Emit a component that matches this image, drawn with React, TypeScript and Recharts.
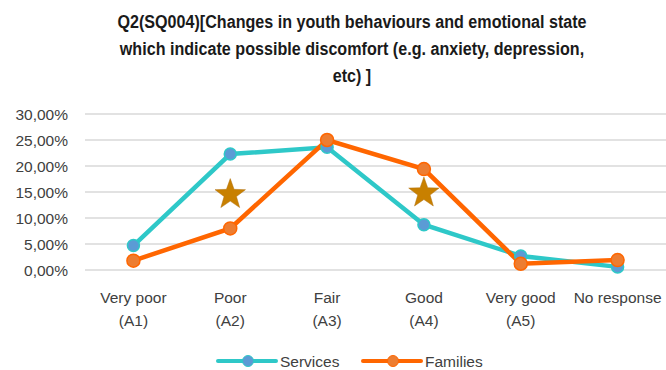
import { XAxis, YAxis, CartesianGrid, Line, Scatter, ComposedChart } from "recharts";

const categories = ["Very poor|(A1)", "Poor|(A2)", "Fair|(A3)", "Good|(A4)", "Very good|(A5)", "No response"];
const services = [4.7, 22.3, 23.6, 8.7, 2.7, 0.6];
const families = [1.8, 8.0, 25.0, 19.4, 1.2, 1.9];
// star markers placed between the two lines
const stars = [null, 14.5, null, 14.8, null, null];
const yTicks = [0, 5, 10, 15, 20, 25, 30];

const titleLines = [
    "Q2(SQ004)[Changes in youth behaviours and emotional state",
    "which indicate possible discomfort (e.g. anxiety, depression,",
    "etc) ]"
];

const FONT = "'Liberation Sans', Arial, sans-serif";

const chartData = categories.map((c, i) => ({
    name: c,
    services: services[i],
    families: families[i],
    star: stars[i]
}));

const fmt = (v: number) => v.toFixed(2).replace(".", ",") + "%";

const CategoryTick = ({ x, y, payload }: any) => {
    const lines = String(payload.value).split("|");
    return (
        <text x={x} y={y} textAnchor="middle" fill="#404040" fontSize={15.5} fontFamily={FONT}>
            {lines.map((l, i) => (
                <tspan key={i} x={x} dy={i === 0 ? 25 : 23}>{l}</tspan>
            ))}
        </text>
    );
};

const Star = ({ cx, cy }: any) => {
    if (cx == null || cy == null) return null;
    const pts: string[] = [];
    for (let i = 0; i < 10; i++) {
        const r = i % 2 === 0 ? 16 : 6.5;
        const a = -Math.PI / 2 + (i * Math.PI) / 5;
        pts.push(`${cx + r * Math.cos(a)},${cy + r * Math.sin(a)}`);
    }
    return <polygon points={pts.join(" ")} fill="#C88000" stroke="#B07010" strokeWidth={0.5} />;
};

const LegendItem = ({ x, line, dot, label }: any) => (
    <g>
        <line x1={x} x2={x + 58} y1={361} y2={361} stroke={line} strokeWidth={4} strokeLinecap="round" />
        <circle cx={x + 30} cy={361} r={5.5} fill={dot} stroke={line} strokeWidth={1} />
        <text x={x + 62} y={367} fontSize={15.5} fill="#404040" fontFamily={FONT}>{label}</text>
    </g>
);

export default function App() {
    return (
        <div style={{ position: "absolute", left: 0, top: 0, width: 666, height: 370, background: "#fff" }}>
            <ComposedChart width={666} height={370} data={chartData}
                margin={{ top: 114, right: 0, bottom: 40, left: 8 }}>
                <CartesianGrid vertical={false} stroke="#D9D9D9" strokeWidth={1.5} />
                <XAxis dataKey="name" scale="band" axisLine={false} tickLine={false} interval={0}
                    tick={<CategoryTick />} height={60} />
                <YAxis domain={[0, 30]} ticks={yTicks} tickFormatter={fmt} axisLine={false} tickLine={false}
                    width={77} tick={{ fontSize: 15.5, fill: "#404040", fontFamily: FONT, dx: -9 }} />
                <Line dataKey="services" stroke="#2EC8C8" strokeWidth={4.5} isAnimationActive={false}
                    dot={{ r: 6, fill: "#5B9BD5", stroke: "#2EC8C8", strokeWidth: 1.5 }} />
                <Line dataKey="families" stroke="#FF6600" strokeWidth={4.5} isAnimationActive={false}
                    dot={{ r: 6.5, fill: "#ED7D31", stroke: "#FF6600", strokeWidth: 1.5 }} />
                <Scatter dataKey="star" shape={<Star />} isAnimationActive={false} />
                <LegendItem x={218} line="#2EC8C8" dot="#5B9BD5" label="Services" />
                <LegendItem x={363} line="#FF6600" dot="#ED7D31" label="Families" />
            </ComposedChart>
            <div style={{
                position: "absolute", left: 0, top: 9, width: 704, textAlign: "center",
                fontFamily: FONT, fontWeight: "bold", fontSize: 18, lineHeight: "27px", color: "#1a1a1a",
                transform: "scaleX(0.895)", transformOrigin: "352px 0"
            }}>
                {titleLines.map((t, i) => <div key={i}>{t}</div>)}
            </div>
        </div>
    );
}
